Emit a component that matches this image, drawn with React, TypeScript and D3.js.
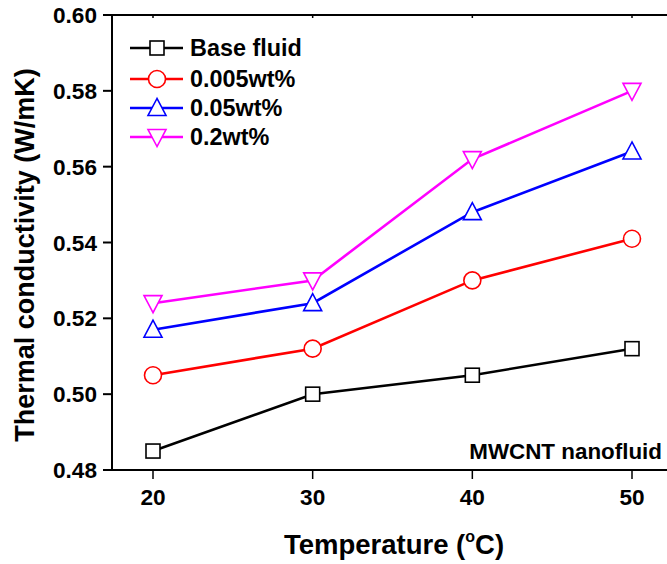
import React from "react";
import * as d3 from "d3";

const temperatures = [20, 30, 40, 50];
const baseFluid = [0.485, 0.5, 0.505, 0.512];
const wt0005 = [0.505, 0.512, 0.53, 0.541];
const wt005 = [0.517, 0.524, 0.548, 0.564];
const wt02 = [0.524, 0.53, 0.562, 0.58];
const seriesNames = ["Base fluid", "0.005wt%", "0.05wt%", "0.2wt%"];
const seriesColors = ["#000000", "#ff0000", "#0000ff", "#ff00ff"];
const seriesMarkers = ["square", "circle", "triangle", "triangleDown"];
const yTicks = [0.48, 0.5, 0.52, 0.54, 0.56, 0.58, 0.6];
const xTicks = [20, 30, 40, 50];

const W = 667;
const H = 564;
const FONT = "'Liberation Sans', Arial, Helvetica, sans-serif";

function Marker({ type, x, y, color }: { type: string; x: number; y: number; color: string }) {
  const sw = 1.6;
  if (type === "square") {
    const s = 14;
    return <rect x={x - s / 2} y={y - s / 2} width={s} height={s} fill="#fff" stroke={color} strokeWidth={sw} />;
  }
  if (type === "circle") {
    return <circle cx={x} cy={y} r={8.5} fill="#fff" stroke={color} strokeWidth={sw} />;
  }
  const hw = 9;
  const hh = 8.5;
  if (type === "triangle") {
    const p = `${x},${y - hh - 1} ${x - hw},${y + hh - 1} ${x + hw},${y + hh - 1}`;
    return <polygon points={p} fill="#fff" stroke={color} strokeWidth={sw} />;
  }
  const p = `${x},${y + hh + 1} ${x - hw},${y - hh + 1} ${x + hw},${y - hh + 1}`;
  return <polygon points={p} fill="#fff" stroke={color} strokeWidth={sw} />;
}

export default function App() {
  const x = d3.scaleLinear().domain([20, 50]).range([153, 632]);
  const y = d3.scaleLinear().domain([0.48, 0.6]).range([470, 15]);
  const left = 112;
  const right = 667;
  const top = y(0.6);
  const bottom = y(0.48);
  const allSeries = [baseFluid, wt0005, wt005, wt02];

  const line = d3
    .line<number>()
    .x((_, i) => x(temperatures[i]))
    .y((d) => y(d));

  return (
    <svg
      width={W}
      height={H}
      style={{ position: "absolute", left: 0, top: 0, background: "#fff" }}
      fontFamily={FONT}
      fontWeight="bold"
    >
      <rect x={0} y={0} width={W} height={H} fill="#fff" />
      {/* axes */}
      <line x1={left} x2={left} y1={top} y2={bottom} stroke="#000" strokeWidth={2} />
      <line x1={left} x2={right} y1={bottom} y2={bottom} stroke="#000" strokeWidth={2} />
      <line x1={left} x2={right} y1={top} y2={top} stroke="#000" strokeWidth={2} />
      {yTicks.map((t) => (
        <g key={t}>
          <line x1={left - 9} x2={left} y1={y(t)} y2={y(t)} stroke="#000" strokeWidth={2} />
          <text x={97} y={y(t)} dy="0.36em" textAnchor="end" fontSize={22.6}>
            {t.toFixed(2)}
          </text>
        </g>
      ))}
      {xTicks.map((t) => (
        <g key={t}>
          <line x1={x(t)} x2={x(t)} y1={bottom} y2={bottom + 9} stroke="#000" strokeWidth={1.5} />
          <line x1={x(t)} x2={x(t)} y1={top} y2={top + 3} stroke="#000" strokeWidth={1.5} />
          <text x={x(t)} y={505} textAnchor="middle" fontSize={22.6}>
            {t}
          </text>
        </g>
      ))}
      {/* series */}
      {allSeries.map((s, si) => (
        <path key={"l" + si} d={line(s) || ""} fill="none" stroke={seriesColors[si]} strokeWidth={2.6} />
      ))}
      {allSeries.map((s, si) =>
        s.map((v, i) => (
          <Marker key={`m${si}-${i}`} type={seriesMarkers[si]} x={x(temperatures[i])} y={y(v)} color={seriesColors[si]} />
        ))
      )}
      {/* legend */}
      {seriesNames.map((name, i) => {
        const ly = [48, 79, 108, 137][i];
        return (
          <g key={name}>
            <line x1={130} x2={183} y1={ly} y2={ly} stroke={seriesColors[i]} strokeWidth={2.6} />
            <Marker type={seriesMarkers[i]} x={157} y={ly} color={seriesColors[i]} />
            <text x={190} y={ly} dy="0.36em" fontSize={23.4}>
              {name}
            </text>
          </g>
        );
      })}
      <text x={662} y={459} textAnchor="end" fontSize={22.4}>
        MWCNT nanofluid
      </text>
      {/* axis titles */}
      <text x={394} y={554} textAnchor="middle" fontSize={27.5}>
        Temperature (
        <tspan dy={-12} fontSize={16}>o</tspan>
        <tspan dy={12}>C)</tspan>
      </text>
      <text transform={`translate(34, 255) rotate(-90)`} textAnchor="middle" fontSize={27}>
        Thermal conductivity (W/mK)
      </text>
    </svg>
  );
}
